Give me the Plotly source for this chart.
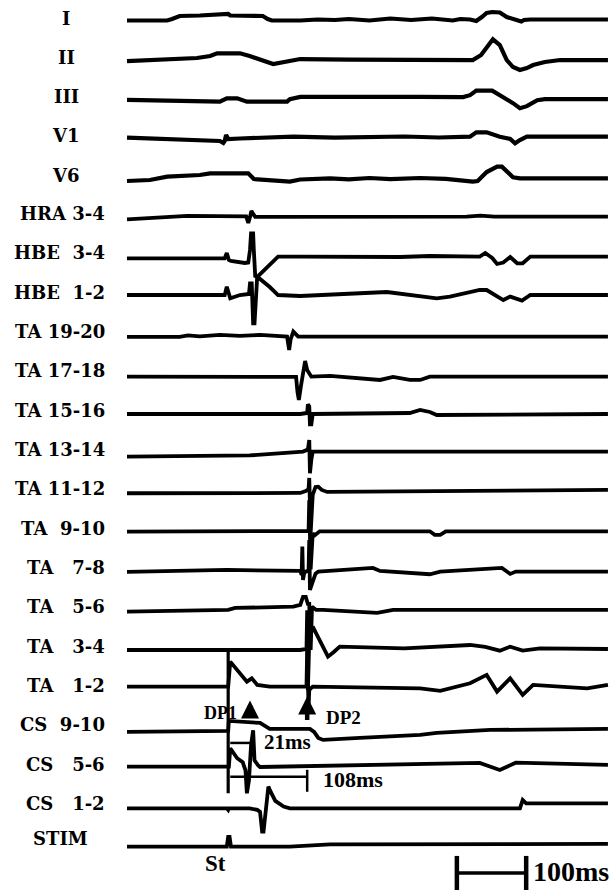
import plotly.graph_objects as go

# ------------------------------------------------------------------
# DATA  (time in ms from the start of the window, amplitude in display
# units, positive = upward deflection, 0 = channel baseline)
# ------------------------------------------------------------------
channel_names = ["I", "II", "III", "V1", "V6", "HRA 3-4", "HBE  3-4", "HBE  1-2",
                 "TA 19-20", "TA 17-18", "TA 15-16", "TA 13-14", "TA 11-12",
                 "TA  9-10", "TA   7-8", "TA   5-6", "TA   3-4", "TA   1-2",
                 "CS  9-10", "CS   5-6", "CS   1-2", "STIM"]
centered_labels = ["I", "II", "III", "V1", "V6", "STIM"]

t_I = [0, 33, 58, 65, 76, 105, 127, 146, 149, 177, 196, 203, 209, 250, 275, 300, 320, 350, 380,
       410, 440, 470, 481, 495, 504, 512, 519, 527, 538, 548, 561, 569, 573, 582, 694]
v_I = [-0.5, -0.5, -0.5, 1, 4, 4.5, 5, 6, 4.5, 4.5, 4, 1, -0.5, -0.5, 0.5, 0, 1, -0.5, 1.5,
       0, 1.5, -0.5, 1, 0.5, -1, 3, 7, 8, 7.5, 3, 0.5, -1.5, 0, 0.5, 0.5]

t_II = [0, 48, 101, 120, 130, 163, 177, 211, 228, 250, 322, 394, 499, 511, 528, 538, 548,
        557, 567, 577, 586, 603, 625, 694]
v_II = [-1.7, -0.7, 1.3, 3.3, 6, 6, 3.3, -4.7, -2.7, 0.3, -0.2, -0.7, -0.7, 4.3, 20, 14.3,
        -0.7, -7.7, -10.7, -8.7, -5.7, -2.7, -0.7, -0.7]

t_III = [0, 87, 134, 144, 159, 173, 231, 235, 250, 423, 485, 495, 504, 527, 543, 557, 567,
         577, 592, 603, 694]
v_III = [-1.3, -3, -3, 0.3, 0.3, -3, -3, -0.5, 1.8, 1.8, 1.6, 3.5, 8, 8, 1.5, -4.5, -9.5,
         -7.5, -1.5, -0.5, -0.5]

t_V1 = [0, 87, 134, 139, 141, 143, 146, 163, 240, 300, 336, 400, 450, 495, 504, 519, 538,
        553, 560, 567, 577, 694]
v_V1 = [0.3, -2, -3, -5, -3, 3, -1, -0.5, 1.3, 0.3, 0.7, 1.5, 0.5, 1.3, 5.7, 5.7, 1.3, -1,
        -5.3, -2, 1.3, 1.3]

t_V6 = [0, 33, 58, 105, 120, 175, 183, 221, 235, 250, 293, 320, 350, 380, 423, 460, 499, 506,
        519, 534, 541, 557, 567, 694]
v_V6 = [-3.7, -2.7, 0.7, 2.3, 4, 4, -1.7, -4.3, -4.3, -2.2, -1, -2, -0.7, -1.8, -0.7, -1.5,
        -4.3, -3.7, 5.3, 10.7, 10.7, 0, -1, -1]

t_HRA34 = [0, 48, 87, 172, 175, 177.5, 179.5, 182, 185, 490, 510, 530, 694]
v_HRA34 = [-2.7, -1.3, 0.7, 0.2, -6.3, -0.3, 5.7, 2.7, -0.3, 0, 1, 0, 0]

t_HBE34 = [0, 141, 144, 147, 150, 170, 175, 177.5, 179, 182, 183, 185, 188, 199, 218, 250,
           336, 394, 437, 509, 517, 527, 534, 543, 553, 563, 571, 582, 694]
v_HBE34 = [-2.3, -2.3, 3, -4, -5, -7, -6.5, 6, 22.7, 22.7, 6, -20, -21, -14, -0.7, -0.7,
           -0.7, -1, 0, -0.7, 3, -2, -8, -6.5, -1, -7.3, -7.3, -0.7, -0.7]

t_HBE12 = [0, 141, 144, 149, 163, 176, 177.5, 180, 182, 184, 188, 189, 206, 218, 250, 375,
           447, 466, 509, 519, 543, 553, 570, 582, 694]
v_HBE12 = [0.3, 0.3, 8.6, -3, 0.3, 1.3, 12, 12, -28, -28, 20, 18, 8.3, 0.3, -0.7, 3.3, -3,
           -1.3, 5.3, 5.3, -4.7, -1.3, -5.3, 0.3, 0.3]

t_TA1920 = [0, 76, 88, 105, 134, 163, 192, 221, 231, 234, 236, 240, 247, 694]
v_TA1920 = [-2.3, -2.3, -0.8, -1.8, -0.3, -1.3, -0.3, -1.3, -2, -15.3, -5, 3, -2, -2]

t_TA1718 = [0, 244, 246, 248, 251, 254, 257, 260, 266, 293, 336, 365, 384, 408, 423, 437, 694]
v_TA1718 = [-2.7, -3, -18, -26, -12, 4, 13, 4, -2.7, -2, -4, -6, -3, -6, -6, -2.7, -2.7]

t_TA1516 = [0, 250, 260, 261, 263, 264, 266, 268, 408, 423, 437, 447, 694]
v_TA1516 = [-0.7, -0.7, 0.3, 9, 7, -11, -11, -0.7, 0.3, 3.3, 1.3, -1.7, -0.7]

t_TA1314 = [0, 156, 177, 254, 261, 263, 264, 266, 268, 694]
v_TA1314 = [-4, -3.3, -2.8, 1, 3, 12.7, -20.6, -7, 1, 1]

t_TA1112 = [0, 250, 258, 262, 263, 264, 265, 268, 272, 276, 281, 289, 694]
v_TA1112 = [-1.3, -1, 1, 3, 14, -41, -41, -3, 5, 5.3, 2, 0, 2]

t_TA910 = [0, 250, 262, 263, 264, 265, 268, 271, 278, 437, 444, 452, 460, 694]
v_TA910 = [-0.3, -0.3, 0.3, 31, -38, -38, -2, -4, 0, 0, -3.5, -3.5, 0, 0]

t_TA78 = [0, 144, 250, 252, 253, 254, 255.5, 257, 262, 263, 264, 268, 272, 276, 346, 355, 365,
          437, 452, 541, 553, 561, 694]
v_TA78 = [-1.3, 0.7, -0.3, -4.3, 24, -9.3, -3, -1.3, 0, 30.7, -19.3, -10, -3, -1, 2.7, 2.7,
          -0.3, -3.6, -1, 2.7, -3.3, -1, -1]

t_TA56 = [0, 105, 146, 156, 240, 250, 254, 258, 261, 263, 264, 265, 267, 273, 283, 361, 384, 694]
v_TA56 = [-1.7, -1, 0, 2, 3.3, 5, 13, 13, 6, 6, -40, -40, 3.3, 0, 0, -3, 0, 0]

t_TA34 = [0, 250, 259, 260, 261, 263, 268, 278, 290, 298, 307, 400, 495, 517, 538, 553,
          571, 596, 694]
v_TA34 = [-0.7, -0.7, 0.3, 39, -41, 9, 22.7, 9, -7.4, -3, 2.6, 1, 4.3, 2.3, -1.4, 2.6, -1.4,
          1, 0.3]

t_TA12 = [0, 146, 149, 163, 173, 180, 188, 206, 259, 260, 261, 262, 263, 268, 423, 452, 495,
          519, 534, 553, 571, 586, 664, 694]
v_TA12 = [2, 2, 27, 15.3, 7, 10.3, 3.7, 2, 2, 38.7, -19.3, -19.3, -1.3, 2, 0.3, -2.3, 5.3,
          13.7, -3, 10.3, -6.3, 3.7, 0.3, 3.7]

t_CS910 = [0, 87, 141, 146, 147, 170, 192, 199, 206, 264, 270, 276, 283, 336, 423, 447, 524, 694]
v_CS910 = [-4, -3.5, -3, -3, 7, 6, 5, 2, -1, -1, -4, -10, -12, -10, -7, -5, -2, -1]

t_CS56 = [0, 144, 147, 149, 159, 163, 167, 171, 173, 176, 179, 182, 184, 189, 192, 509, 538,
          561, 694]
v_CS56 = [0.7, 0.7, 0.7, 19, 9, 7, 5, -3, -26, -13, 22, 37, 7, 2, 0.3, 4.3, -2.7, 4.6, 2.3]

t_CS12 = [0, 144, 146, 147, 177, 188, 192, 195, 197, 201, 204, 206, 214, 226, 235, 567, 571,
          576, 694]
v_CS12 = [-1.7, -1.7, -3.3, -1.7, -1.7, -3.3, -5.3, -25, -25, 6.7, 20, 16.7, 5.7, 0, -1.7,
          -1.7, 6.7, 3.3, 3.3]

t_STIM = [0, 144, 146, 148, 150, 235, 293, 509, 694]
v_STIM = [-0.7, -0.7, 9, 9, -0.7, -0.7, 1.5, 2, 2]

# measurement events (ms)
dp1_ms = 146          # DP1 marker line
dp2_ms = 260          # DP2 (end of 108 ms bracket)
cs_first_ms = 182     # end of 21 ms bracket
bracket_start_ms = 149
interval_labels = ["21ms", "108ms"]
scalebar_ms = 100
scalebar_start_ms = 476

series = [(t_I, v_I), (t_II, v_II), (t_III, v_III), (t_V1, v_V1), (t_V6, v_V6),
          (t_HRA34, v_HRA34), (t_HBE34, v_HBE34), (t_HBE12, v_HBE12),
          (t_TA1920, v_TA1920), (t_TA1718, v_TA1718), (t_TA1516, v_TA1516),
          (t_TA1314, v_TA1314), (t_TA1112, v_TA1112), (t_TA910, v_TA910),
          (t_TA78, v_TA78), (t_TA56, v_TA56), (t_TA34, v_TA34), (t_TA12, v_TA12),
          (t_CS910, v_CS910), (t_CS56, v_CS56), (t_CS12, v_CS12), (t_STIM, v_STIM)]

# ------------------------------------------------------------------
# LAYOUT
# ------------------------------------------------------------------
FIG_W, FIG_H = 613, 890
X0_PX = 127
PX_PER_MS = 0.693
TOP_PX = 20
STEP_PX = 39.33
LABEL_FONT = dict(family="DejaVu Serif", size=18, color="black")
NOTE_FAMILY = "Liberation Serif"


def px_to_ms(px):
    return (px - X0_PX) / PX_PER_MS


def base(i):
    return -(TOP_PX + STEP_PX * i)


fig = go.Figure()
for i, (t, v) in enumerate(series):
    lw = 4.2 if i < 5 else 3.8
    fig.add_trace(go.Scatter(x=t, y=[base(i) + a for a in v], mode="lines",
                             line=dict(color="black", width=lw),
                             hoverinfo="skip", showlegend=False))

annotations = []
for i, name in enumerate(channel_names):
    label = name.replace(" ", "\u00a0")
    if name in centered_labels:
        x, anchor, dy = px_to_ms(66 if name != "STIM" else 60), "center", 2 if name != "STIM" else 7
    else:
        x, anchor, dy = px_to_ms(107), "right", 3
    annotations.append(dict(x=x, y=base(i) + dy, xref="x", yref="y", text="<b>%s</b>" % label,
                            showarrow=False, xanchor=anchor, yanchor="middle", font=LABEL_FONT))

i_ta34 = channel_names.index("TA   3-4")
i_ta12 = channel_names.index("TA   1-2")
i_cs910 = channel_names.index("CS  9-10")
i_cs56 = channel_names.index("CS   5-6")
i_stim = channel_names.index("STIM")

shapes = []
line_style = dict(color="black", width=3.2)
# DP1 vertical marker
shapes.append(dict(type="line", xref="x", yref="y", x0=dp1_ms, x1=dp1_ms,
                   y0=base(i_ta34), y1=base(i_cs56) - 26, line=line_style))
# 21 ms bracket
y21 = base(i_cs910) - 15
shapes.append(dict(type="line", xref="x", yref="y", x0=bracket_start_ms, x1=cs_first_ms,
                   y0=y21, y1=y21, line=dict(color="black", width=2.5)))
# 108 ms bracket
y108 = base(i_cs56) - 9.5
shapes.append(dict(type="line", xref="x", yref="y", x0=bracket_start_ms, x1=dp2_ms,
                   y0=y108, y1=y108, line=dict(color="black", width=2.5)))
shapes.append(dict(type="line", xref="x", yref="y", x0=dp2_ms, x1=dp2_ms,
                   y0=y108 + 7, y1=y108 - 15, line=dict(color="black", width=2.5)))
# scale bar
ysb = base(i_stim) - 27
shapes.append(dict(type="line", xref="x", yref="y", x0=scalebar_start_ms,
                   x1=scalebar_start_ms + scalebar_ms, y0=ysb, y1=ysb,
                   line=dict(color="black", width=3.5)))
for xx in (scalebar_start_ms, scalebar_start_ms + scalebar_ms):
    shapes.append(dict(type="line", xref="x", yref="y", x0=xx, x1=xx,
                       y0=ysb + 17, y1=ysb - 20, line=dict(color="black", width=4.5)))

# DP arrows
for xa, tip, tail in ((px_to_ms(250), base(i_ta12) - 12, base(i_ta12) - 30),
                      (dp2_ms, base(i_ta12) - 8, base(i_ta12) - 33)):
    annotations.append(dict(x=xa, y=tip, ax=xa, ay=tail, xref="x", yref="y",
                            axref="x", ayref="y", text="", showarrow=True,
                            arrowhead=2, arrowsize=0.8, arrowwidth=4.5, arrowcolor="black"))

# texts
annotations += [
    dict(x=px_to_ms(202), y=base(i_ta12) - 24, text="<b>DP1</b>", xanchor="left",
         font=dict(family=NOTE_FAMILY, size=18, color="black")),
    dict(x=px_to_ms(324), y=base(i_ta12) - 29, text="<b>DP2</b>", xanchor="left",
         font=dict(family=NOTE_FAMILY, size=19, color="black")),
    dict(x=px_to_ms(262), y=y21 + 1, text="<b>%s</b>" % interval_labels[0], xanchor="left",
         font=dict(family=NOTE_FAMILY, size=21, color="black")),
    dict(x=px_to_ms(321), y=y108 - 3, text="<b>%s</b>" % interval_labels[1], xanchor="left",
         font=dict(family=NOTE_FAMILY, size=22, color="black")),
    dict(x=px_to_ms(215), y=base(i_stim) - 18, text="<b>St</b>", xanchor="center",
         font=dict(family=NOTE_FAMILY, size=23, color="black")),
    dict(x=px_to_ms(531), y=ysb + 1, text="<b>%dms</b>" % scalebar_ms, xanchor="left",
         font=dict(family=NOTE_FAMILY, size=28, color="black")),
]
for a in annotations[-6:]:
    a.update(xref="x", yref="y", showarrow=False, yanchor="middle")

fig.update_layout(
    width=FIG_W, height=FIG_H, autosize=False,
    margin=dict(l=0, r=0, t=0, b=0, pad=0),
    paper_bgcolor="white", plot_bgcolor="white",
    xaxis=dict(range=[px_to_ms(0), px_to_ms(FIG_W)], visible=False, fixedrange=True),
    yaxis=dict(range=[-FIG_H, 0], visible=False, fixedrange=True),
    shapes=shapes, annotations=annotations, showlegend=False,
)
fig.write_html("out.html")
